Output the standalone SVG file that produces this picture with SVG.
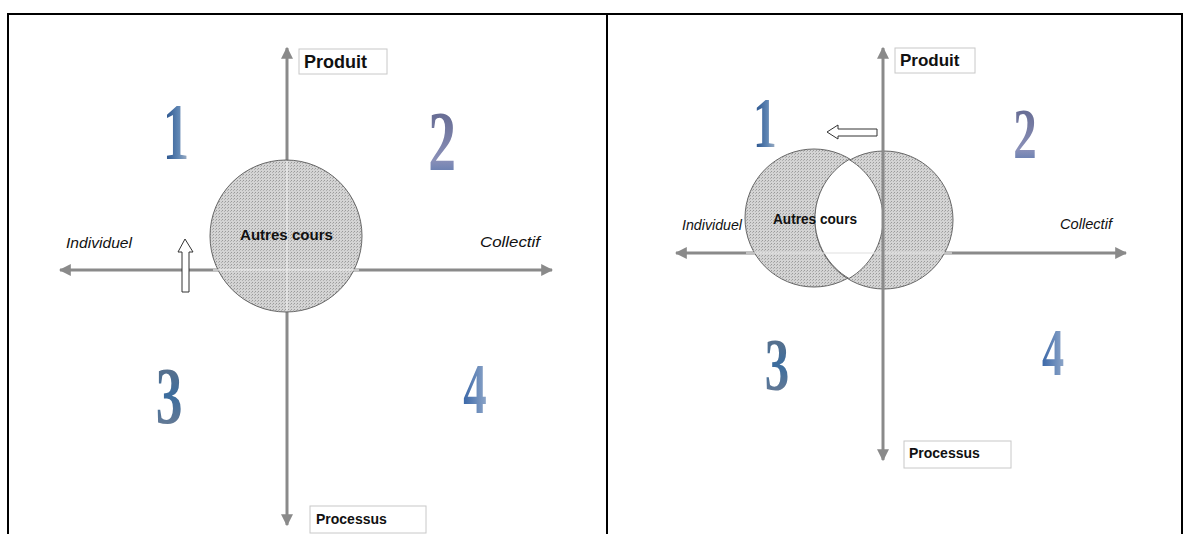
<svg xmlns="http://www.w3.org/2000/svg" width="1191" height="534" viewBox="0 0 1191 534">
<style>
.frame{fill:none;stroke:#000;stroke-width:2}
.axis{stroke:#8a8a8a;stroke-width:3;fill:none}
.circ{fill:url(#dots);stroke:#666;stroke-width:1}
.lbl{font-family:"Liberation Sans",Arial,sans-serif;font-weight:bold;fill:#111}
.ital{font-family:"Liberation Sans",Arial,sans-serif;font-style:italic;font-size:14px;fill:#111}
.box{fill:#fff;stroke:#c8c8c8;stroke-width:1}
.num{font-family:"Liberation Serif","Times New Roman",serif;font-weight:bold;text-anchor:middle}
.blk{fill:#fff;stroke:#333;stroke-width:1}
</style>
<defs>
<pattern id="dots" width="3" height="3" patternUnits="userSpaceOnUse">
<rect width="3" height="3" fill="#d4d4d4"/>
<rect width="1" height="1" fill="#9a9a9a"/>
<rect x="2" y="1" width="1" height="1" fill="#b0b0b0"/>
</pattern>
<linearGradient id="g1" x1="0" y1="0" x2="1" y2="0">
<stop offset="0" stop-color="#1f4a86"/><stop offset="0.6" stop-color="#5f86b4"/><stop offset="1" stop-color="#a9b4c4"/>
</linearGradient>
<linearGradient id="g2" x1="0" y1="0" x2="0" y2="1">
<stop offset="0" stop-color="#5a5f86"/><stop offset="0.7" stop-color="#8a90b8"/><stop offset="1" stop-color="#3e6aa8"/>
</linearGradient>
<linearGradient id="g3" x1="0" y1="0" x2="0" y2="1">
<stop offset="0" stop-color="#6a7280"/><stop offset="0.5" stop-color="#3c6d9e"/><stop offset="1" stop-color="#7a8090"/>
</linearGradient>
<linearGradient id="g4" x1="0" y1="0" x2="1" y2="0">
<stop offset="0" stop-color="#3a67a8"/><stop offset="1" stop-color="#8ea6c8"/>
</linearGradient>
<marker id="ah" viewBox="0 0 10 10" refX="9" refY="5" markerWidth="4" markerHeight="4" orient="auto">
<path d="M0,0 L10,5 L0,10 z" fill="#8a8a8a"/>
</marker>
</defs>
<rect width="1191" height="534" fill="#fff"/>
<g id="table">
<path class="frame" d="M8,540 V14 H1182 V540 M607,14 V540"/>
</g>

<!-- LEFT PANEL -->
<g id="connectors-left">
<line class="axis" x1="287" y1="270" x2="287" y2="48" marker-end="url(#ah)"/>
<line class="axis" x1="287" y1="270" x2="287" y2="525" marker-end="url(#ah)"/>
<line class="axis" x1="287" y1="270" x2="60" y2="270" marker-end="url(#ah)"/>
<line class="axis" x1="287" y1="270" x2="552" y2="270" marker-end="url(#ah)"/>
</g>
<g id="circle-left">
<circle class="circ" cx="286" cy="236" r="76"/>
<line x1="287" y1="161" x2="287" y2="311" stroke="#eee" stroke-width="2" opacity="0.6"/>
<line x1="213" y1="270" x2="359" y2="270" stroke="#eee" stroke-width="2" opacity="0.6"/>
<text class="lbl" x="240" y="240" font-size="15" textLength="93" lengthAdjust="spacingAndGlyphs">Autres cours</text>
</g>
<g id="arrow-up-left">
<path class="blk" d="M185,239 L193,252 L189,252 L189,292 L182,292 L182,252 L178,252 Z"/>
</g>
<g id="produit-left">
<rect class="box" x="299" y="49" width="88" height="25"/>
<text class="lbl" x="304" y="68" font-size="18">Produit</text>
</g>
<g id="processus-left">
<rect class="box" x="310" y="506" width="116" height="27"/>
<text class="lbl" x="316" y="524" font-size="14">Processus</text>
</g>
<g id="individuel-left"><text class="ital" x="66" y="248" textLength="66" lengthAdjust="spacingAndGlyphs">Individuel</text></g>
<g id="collectif-left"><text class="ital" x="480" y="247" textLength="60" lengthAdjust="spacingAndGlyphs">Collectif</text></g>
<g id="nums-left">
<text class="num" transform="translate(176,159) scale(0.66,1)" font-size="80" fill="url(#g1)">1</text>
<text class="num" transform="translate(442,170) scale(0.66,1)" font-size="84" fill="url(#g2)">2</text>
<text class="num" transform="translate(169,423) scale(0.66,1)" font-size="81" fill="url(#g3)">3</text>
<text class="num" transform="translate(475,413) scale(0.66,1)" font-size="71" fill="url(#g4)">4</text>
</g>

<!-- RIGHT PANEL -->
<g id="connectors-right">
<line class="axis" x1="883" y1="253" x2="676" y2="253" marker-end="url(#ah)"/>
<line class="axis" x1="883" y1="253" x2="1126" y2="253" marker-end="url(#ah)"/>
</g>
<g id="circles-right">
<circle class="circ" cx="814" cy="218" r="69"/>
<circle class="circ" cx="884" cy="220" r="69"/>
<path d="M849,159.5 A69,69 0 0 1 849,278.5 A69,69 0 0 1 849,159.5 Z" fill="#fff" stroke="#666" stroke-width="1"/>
<line x1="746" y1="253" x2="952" y2="253" stroke="#e6e6e6" stroke-width="2" opacity="0.6"/>
<text class="lbl" x="773" y="224" font-size="14" textLength="84" lengthAdjust="spacingAndGlyphs">Autres cours</text>
</g>
<g id="connectors-right-v">
<line class="axis" x1="883" y1="253" x2="883" y2="48" marker-end="url(#ah)"/>
<line class="axis" x1="883" y1="253" x2="883" y2="460" marker-end="url(#ah)"/>
</g>
<g id="arrow-left-right">
<path class="blk" d="M827,132 L838,125 L838,129 L877,129 L877,136 L838,136 L838,139 Z"/>
</g>
<g id="produit-right">
<rect class="box" x="895" y="48" width="80" height="25"/>
<text class="lbl" x="900" y="66" font-size="17">Produit</text>
</g>
<g id="processus-right">
<rect class="box" x="904" y="441" width="107" height="27"/>
<text class="lbl" x="909" y="458" font-size="14">Processus</text>
</g>
<g id="individuel-right"><text class="ital" x="682" y="230" textLength="60" lengthAdjust="spacingAndGlyphs">Individuel</text></g>
<g id="collectif-right"><text class="ital" x="1060" y="229" textLength="52" lengthAdjust="spacingAndGlyphs">Collectif</text></g>
<g id="nums-right">
<text class="num" transform="translate(765,147) scale(0.66,1)" font-size="72" fill="url(#g1)">1</text>
<text class="num" transform="translate(1025,158) scale(0.66,1)" font-size="71" fill="url(#g2)">2</text>
<text class="num" transform="translate(777,390) scale(0.66,1)" font-size="74" fill="url(#g3)">3</text>
<text class="num" transform="translate(1053,375) scale(0.66,1)" font-size="67" fill="url(#g4)">4</text>
</g>
</svg>
